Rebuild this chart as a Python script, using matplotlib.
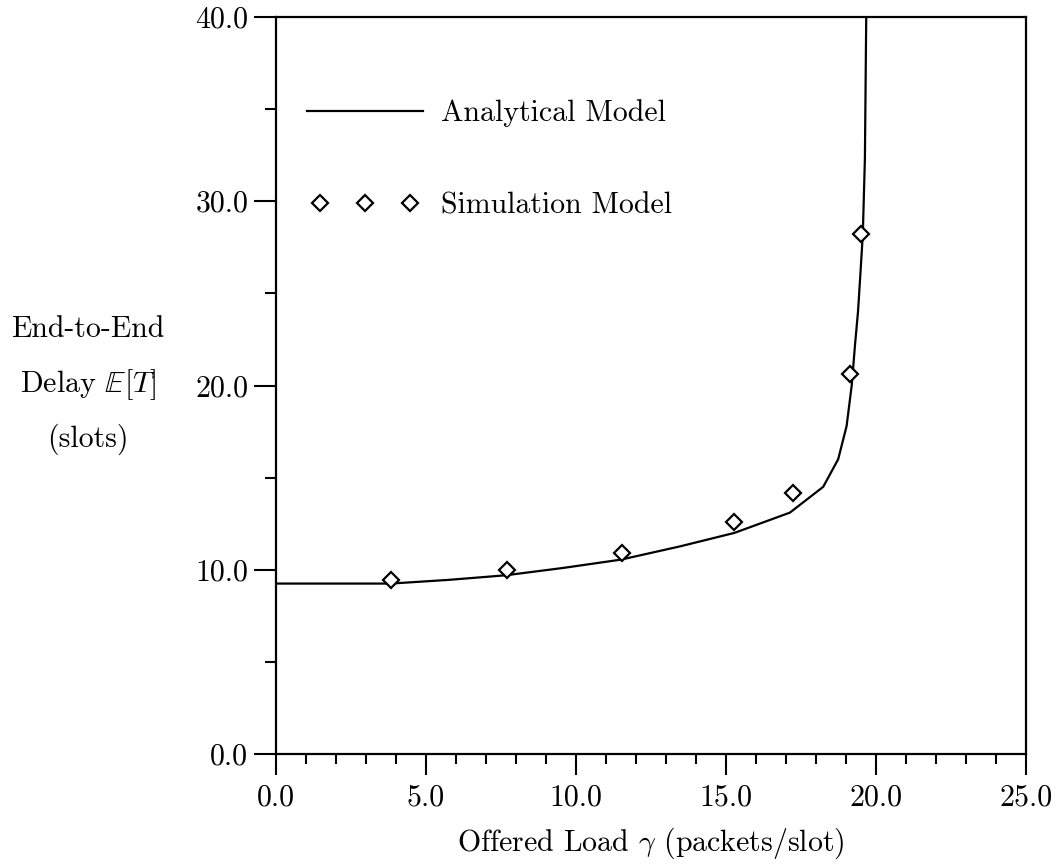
import matplotlib
matplotlib.use("Agg")
import matplotlib.pyplot as plt
from matplotlib.ticker import MultipleLocator, FixedLocator
from matplotlib.legend_handler import HandlerLine2D

plt.rcParams['font.family'] = ['cmr10', 'DejaVu Serif']
plt.rcParams['mathtext.fontset'] = 'cm'
plt.rcParams['axes.unicode_minus'] = False

# Analytical model curve (offered load vs end-to-end delay)
analytic_load = [0.0, 3.83, 5.75, 7.66, 9.58, 11.5, 13.47, 15.28, 17.13, 18.24,
                 18.74, 19.02, 19.19, 19.3, 19.4, 19.47, 19.56, 19.63, 19.68]
analytic_delay = [9.25, 9.25, 9.45, 9.7, 10.1, 10.55, 11.27, 12.0, 13.1, 14.5,
                  16.0, 17.8, 20.0, 22.2, 24.0, 25.8, 28.2, 32.3, 41.0]

# Simulation model points
sim_load = [3.83, 7.7, 11.53, 15.28, 17.22, 19.13, 19.49]
sim_delay = [9.45, 10.0, 10.9, 12.58, 14.16, 20.65, 28.2]

x_ticks = [0, 5, 10, 15, 20, 25]
x_tick_labels = ["0.0", "5.0", "10.0", "15.0", "20.0", "25.0"]
y_ticks = [0, 10, 20, 30, 40]
y_tick_labels = ["0.0", "10.0", "20.0", "30.0", "40.0"]

FS = 21.5

fig = plt.figure(figsize=(10.59, 8.64), dpi=100)
ax = fig.add_axes([276/1059, 1 - 754/864, 750/1059, 737/864])

line, = ax.plot(analytic_load, analytic_delay, color='black', lw=1.6,
                label='Analytical Model', clip_on=True)
pts, = ax.plot(sim_load, sim_delay, linestyle='none', marker='D', markersize=8.5,
               markerfacecolor='white', markeredgecolor='black', markeredgewidth=1.6,
               label='Simulation Model', zorder=3)

ax.set_xlim(0, 25)
ax.set_ylim(0, 40)

ax.xaxis.set_major_locator(FixedLocator(x_ticks))
ax.set_xticklabels(x_tick_labels, fontsize=FS)
ax.xaxis.set_minor_locator(MultipleLocator(1))
ax.yaxis.set_major_locator(FixedLocator(y_ticks))
ax.set_yticklabels(y_tick_labels, fontsize=FS)
ax.yaxis.set_minor_locator(MultipleLocator(5))

ax.tick_params(axis='x', which='major', direction='out', length=15, width=1.5, pad=7)
ax.tick_params(axis='x', which='minor', direction='out', length=7.5, width=1.5)
ax.tick_params(axis='y', which='major', direction='out', length=16, width=1.5, pad=4)
ax.tick_params(axis='y', which='minor', direction='out', length=8, width=1.5)
for s in ax.spines.values():
    s.set_linewidth(1.6)

ax.set_xlabel(r'Offered Load $\gamma$ (packets/slot)', fontsize=FS, labelpad=10)
ax.set_ylabel('End-to-End\n' + r'Delay $\mathbb{E}[T]$' + '\n(slots)', fontsize=FS,
              rotation=0, ha='center', va='center', multialignment='center',
              linespacing=1.95)
ax.yaxis.set_label_coords(-0.2507, 0.5)

leg = ax.legend(handles=[line, pts], loc='upper left', bbox_to_anchor=(0.041, 0.888),
                frameon=False, fontsize=FS, handlelength=3.9, handletextpad=0.6,
                labelspacing=2.15, borderpad=0, borderaxespad=0,
                handler_map={pts: HandlerLine2D(numpoints=3, marker_pad=0.45)})

fig.savefig('out.png', dpi=100)
